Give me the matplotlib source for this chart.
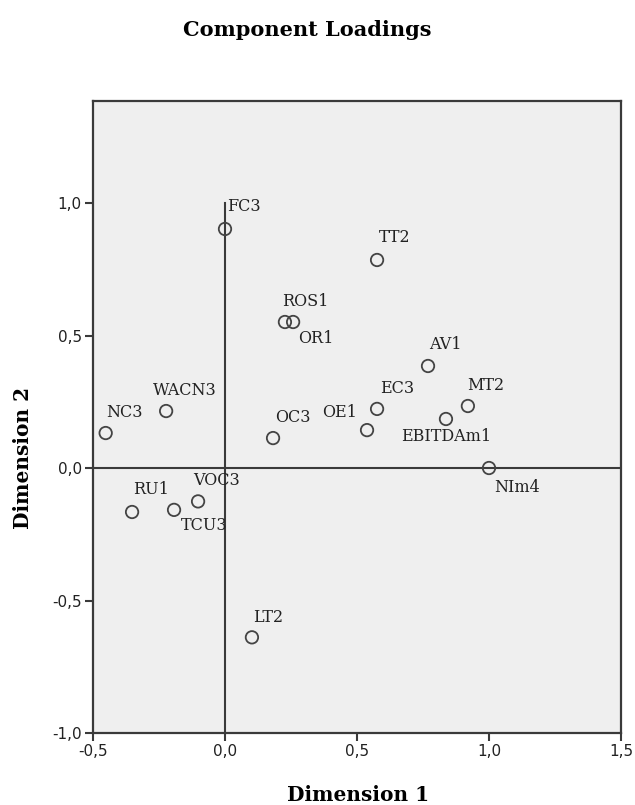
import matplotlib
matplotlib.use('Agg')
import matplotlib.pyplot as plt

names = ['FC3', 'TT2', 'ROS1', 'OR1', 'AV1', 'EC3', 'OE1', 'MT2', 'EBITDAm1',
         'NIm4', 'OC3', 'NC3', 'WACN3', 'RU1', 'VOC3', 'TCU3', 'LT2']
dim1 = [0.00, 0.576, 0.227, 0.258, 0.769, 0.576, 0.538, 0.920, 0.837,
        1.000, 0.182, -0.452, -0.223, -0.352, -0.102, -0.193, 0.102]
dim2 = [0.902, 0.785, 0.551, 0.551, 0.385, 0.223, 0.143, 0.234, 0.185,
        0.000, 0.113, 0.132, 0.215, -0.166, -0.126, -0.158, -0.639]

# label placement (pixel offsets, alignment)
label_pos = {
    'FC3': (2, 22, 'left'), 'TT2': (2, 22, 'left'), 'ROS1': (-3, 21, 'left'),
    'OR1': (5, -16, 'left'), 'AV1': (1, 21, 'left'), 'EC3': (3, 20, 'left'),
    'OE1': (-10, 18, 'right'), 'MT2': (-1, 21, 'left'), 'EBITDAm1': (0, -18, 'center'),
    'NIm4': (5, -19, 'left'), 'OC3': (2, 21, 'left'), 'NC3': (1, 21, 'left'),
    'WACN3': (-13, 21, 'left'), 'RU1': (1, 22, 'left'), 'VOC3': (-5, 21, 'left'),
    'TCU3': (7, -16, 'left'), 'LT2': (1, 20, 'left'),
}

line_col = '#3a3a3a'
fig = plt.figure(figsize=(6.35, 8.05), dpi=100)
ax = fig.add_axes([93 / 635, 1 - 733 / 805, 528 / 635, 632 / 805])
ax.set_facecolor('#efefef')

ax.plot([0, 0], [-1.0, 1.0], color=line_col, lw=1.5, zorder=1)
ax.plot([-0.5, 1.5], [0, 0], color=line_col, lw=1.5, zorder=1)

ax.scatter(dim1, dim2, s=80, facecolors='none', edgecolors='#444444',
           linewidths=1.3, zorder=3)

for n, x, y in zip(names, dim1, dim2):
    dx, dy, ha = label_pos[n]
    ax.annotate(n, (x, y), xytext=(dx, dy), textcoords='offset pixels',
                ha=ha, va='center', fontsize=11.5, family='DejaVu Serif',
                color='#222222', zorder=4)

ax.set_xlim(-0.5, 1.5)
ax.set_ylim(-1.0, 1.385)
ax.set_xticks([-0.5, 0.0, 0.5, 1.0, 1.5])
ax.set_yticks([-1.0, -0.5, 0.0, 0.5, 1.0])
ax.set_xticklabels(['-0,5', '0,0', '0,5', '1,0', '1,5'])
ax.set_yticklabels(['-1,0', '-0,5', '0,0', '0,5', '1,0'])
ax.tick_params(direction='out', length=6, width=1.5, color=line_col,
               labelsize=11, labelcolor='#222222', pad=2)
for s in ax.spines.values():
    s.set_color(line_col)
    s.set_linewidth(1.6)

fig.text(307 / 635, 1 - 30 / 805, 'Component Loadings', ha='center', va='center',
         fontsize=15, fontweight='bold', family='DejaVu Serif')
fig.text(358 / 635, 1 - 795 / 805, 'Dimension 1', ha='center', va='center',
         fontsize=14.5, fontweight='bold', family='DejaVu Serif')
fig.text(23 / 635, 1 - 458 / 805, 'Dimension 2', ha='center', va='center',
         rotation=90, fontsize=14.5, fontweight='bold', family='DejaVu Serif')

fig.savefig('out.png', dpi=100)
